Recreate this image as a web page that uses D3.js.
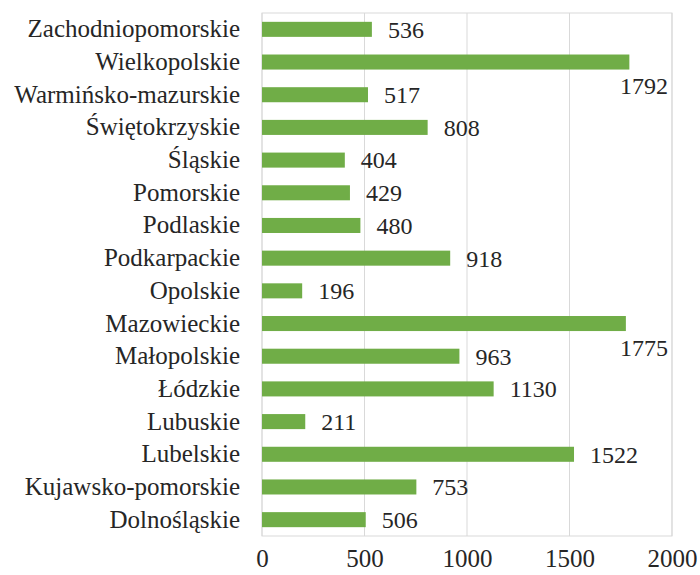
<!DOCTYPE html>
<html>
<head>
<meta charset="utf-8">
<script src="https://cdn.jsdelivr.net/npm/d3@7"></script>
<style>
  body { margin: 0; background: #fff; }
  svg text { fill: #262626; }
</style>
</head>
<body>
<div id="chart"></div>
<script>
// voivodeships, top to bottom as drawn
var regions = ["Zachodniopomorskie", "Wielkopolskie", "Warmińsko-mazurskie", "Świętokrzyskie",
  "Śląskie", "Pomorskie", "Podlaskie", "Podkarpackie", "Opolskie", "Mazowieckie",
  "Małopolskie", "Łódzkie", "Lubuskie", "Lubelskie", "Kujawsko-pomorskie", "Dolnośląskie"];
var counts = [536, 1792, 517, 808, 404, 429, 480, 918, 196, 1775, 963, 1130, 211, 1522, 753, 506];
var xTicks = [0, 500, 1000, 1500, 2000];

var data = regions.map(function (r, i) { return {region: r, value: counts[i]}; });

var FONT = "Liberation Serif";

var W = 700, H = 575;
var margin = {top: 13, right: 28, bottom: 39, left: 262};
var width = W - margin.left - margin.right,
    height = H - margin.top - margin.bottom;

var svg = d3.select("#chart").append("svg")
  .attr("width", W)
  .attr("height", H)
  .attr("font-family", FONT);

var g = svg.append("g")
  .attr("transform", "translate(" + margin.left + "," + margin.top + ")");

var x = d3.scaleLinear().domain([0, 2000]).range([0, width]);
var y = d3.scaleBand().domain(regions).range([0, height]).paddingInner(0.54).paddingOuter(0.27);

// gridlines
g.selectAll(".grid")
  .data(xTicks)
  .enter().append("line")
  .attr("x1", function (d) { return x(d); })
  .attr("x2", function (d) { return x(d); })
  .attr("y1", 0)
  .attr("y2", height)
  .attr("stroke", "#d9d9d9")
  .attr("stroke-width", 1);

// plot border
g.append("rect")
  .attr("x", 0).attr("y", 0)
  .attr("width", width).attr("height", height)
  .attr("fill", "none")
  .attr("stroke", "#d9d9d9");

// x axis labels
var xAxis = g.append("g")
  .attr("transform", "translate(0," + height + ")")
  .call(d3.axisBottom(x).tickValues(xTicks).tickFormat(d3.format("d")).tickSize(0).tickPadding(13));
xAxis.attr("font-family", FONT).attr("font-size", 25);
xAxis.select(".domain").remove();

// y axis labels
var yAxis = g.append("g")
  .call(d3.axisLeft(y).tickSize(0).tickPadding(22));
yAxis.attr("font-family", FONT).attr("font-size", 25);
yAxis.select(".domain").remove();

// bars
g.selectAll(".bar")
  .data(data)
  .enter().append("rect")
  .attr("class", "bar")
  .attr("x", 0)
  .attr("y", function (d) { return y(d.region); })
  .attr("width", function (d) { return x(d.value); })
  .attr("height", y.bandwidth())
  .attr("fill", "#70ad47");

// value labels; the ones that don't fit drop under the bar
g.selectAll(".val")
  .data(data)
  .enter().append("text")
  .attr("class", "val")
  .attr("font-size", 24)
  .attr("dy", "0.35em")
  .text(function (d) { return d.value; })
  .each(function (d) {
    var t = d3.select(this);
    var w = this.getComputedTextLength();
    var cy = y(d.region) + y.bandwidth() / 2;
    if (x(d.value) + 16 + w > width) {
      t.attr("x", width - 4).attr("y", cy + 24).attr("text-anchor", "end");
    } else {
      t.attr("x", x(d.value) + 16).attr("y", cy);
    }
  });
</script>
</body>
</html>
